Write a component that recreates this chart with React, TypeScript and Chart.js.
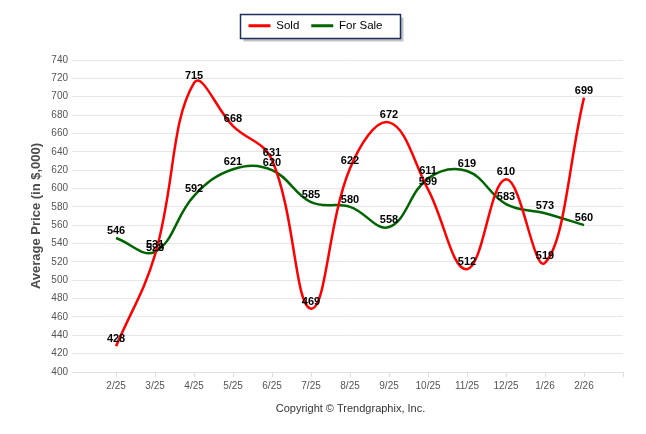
import React, { useEffect, useRef } from "react";
import { Chart, registerables } from "chart.js";

Chart.register(...registerables);

const categories = ["2/25", "3/25", "4/25", "5/25", "6/25", "7/25", "8/25", "9/25", "10/25", "11/25", "12/25", "1/26", "2/26"];
const soldValues = [428, 528, 715, 668, 631, 469, 622, 672, 599, 512, 610, 519, 699];
const forSaleValues = [546, 531, 592, 621, 620, 585, 580, 558, 611, 619, 583, 573, 560];
const yTickMin = 400;
const yTickMax = 740;
const yTickStep = 20;

const FONT = "'Liberation Sans', Arial, sans-serif";

const legendBoxPlugin = {
  id: "legendBox",
  beforeInit(chart: any) {
    const legend = chart.legend;
    if (legend && !legend.__patched) {
      const origFit = legend.fit.bind(legend);
      legend.fit = function () {
        origFit();
        this.height = 52;
      };
      legend.__patched = true;
    }
  },
  beforeDraw(chart: any) {
    const legend = chart.legend;
    if (!legend || !legend.legendHitBoxes || !legend.legendHitBoxes.length) return;
    const hb = legend.legendHitBoxes;
    let minX = Infinity, maxX = -Infinity, minY = Infinity, maxY = -Infinity;
    hb.forEach((b: any) => {
      minX = Math.min(minX, b.left);
      maxX = Math.max(maxX, b.left + b.width);
      minY = Math.min(minY, b.top);
      maxY = Math.max(maxY, b.top + b.height);
    });
    const cy = (minY + maxY) / 2;
    const x0 = Math.round(minX - 9) + 0.5;
    const x1 = Math.round(maxX + 18) + 0.5;
    const y0 = Math.round(cy - 12) + 0.5;
    const y1 = Math.round(cy + 12) + 0.5;
    const ctx = chart.ctx;
    ctx.save();
    ctx.fillStyle = "rgba(120,120,120,0.45)";
    ctx.fillRect(x0 + 3, y0 + 3, x1 - x0, y1 - y0);
    ctx.fillStyle = "#ffffff";
    ctx.fillRect(x0, y0, x1 - x0, y1 - y0);
    ctx.strokeStyle = "#1c2f5e";
    ctx.lineWidth = 1.5;
    ctx.strokeRect(x0, y0, x1 - x0, y1 - y0);
    ctx.restore();
  },
};

const valueLabelPlugin = {
  id: "valueLabels",
  afterDatasetsDraw(chart: any) {
    const ctx = chart.ctx;
    ctx.save();
    ctx.font = `bold 11px ${FONT}`;
    ctx.fillStyle = "#000000";
    ctx.textAlign = "center";
    ctx.textBaseline = "middle";
    chart.data.datasets.forEach((ds: any, di: number) => {
      const meta = chart.getDatasetMeta(di);
      meta.data.forEach((pt: any, i: number) => {
        const v = ds.data[i].y;
        ctx.fillText(String(v), pt.x, pt.y - 7);
      });
    });
    ctx.restore();
  },
};

const copyrightPlugin = {
  id: "copyright",
  afterDraw(chart: any) {
    const { ctx, chartArea } = chart;
    ctx.save();
    ctx.font = `11px ${FONT}`;
    ctx.fillStyle = "#333333";
    ctx.textAlign = "center";
    ctx.textBaseline = "middle";
    ctx.fillText("Copyright © Trendgraphix, Inc.", (chartArea.left + chartArea.right) / 2 + 3, chartArea.bottom + 37);
    ctx.restore();
  },
};

export default function App() {
  const ref = useRef<HTMLCanvasElement>(null);
  useEffect(() => {
    if (!ref.current) return;
    const chart = new Chart(ref.current, {
      type: "line",
      data: {
        datasets: [
          {
            label: "Sold",
            data: soldValues.map((v, i) => ({ x: i, y: v })),
            borderColor: "#ff0000",
            backgroundColor: "#ff0000",
            borderWidth: 2.5,
            pointRadius: 0,
            tension: 0.4,
            fill: false,
          },
          {
            label: "For Sale",
            data: forSaleValues.map((v, i) => ({ x: i, y: v })),
            borderColor: "#006400",
            backgroundColor: "#006400",
            borderWidth: 2.5,
            pointRadius: 0,
            tension: 0.4,
            fill: false,
          },
        ],
      },
      options: {
        animation: false,
        responsive: true,
        maintainAspectRatio: false,
        layout: { padding: { left: 0, right: 15, top: 0, bottom: 0 } },
        plugins: {
          legend: {
            display: true,
            position: "top",
            labels: {
              boxWidth: 22,
              boxHeight: 3,
              padding: 12,
              color: "#000000",
              font: { family: FONT, size: 11.5 },
              generateLabels(chart: any) {
                const items = Chart.defaults.plugins.legend.labels.generateLabels(chart);
                return items.map((it: any) => ({ ...it, lineWidth: 0 }));
              },
            },
          },
          tooltip: { enabled: false },
          title: { display: false },
        },
        scales: {
          x: {
            type: "linear",
            min: -1.13,
            max: 13,
            afterFit(scale: any) {
              scale.height = 54;
            },
            afterBuildTicks(scale: any) {
              scale.ticks = categories.map((_, i) => ({ value: i })).concat([{ value: 13 }]);
            },
            ticks: {
              stepSize: 1,
              autoSkip: false,
              maxRotation: 0,
              padding: 3,
              color: "#555555",
              font: { family: FONT, size: 10 },
              callback: (val: any) => {
                const i = Number(val);
                return Number.isInteger(i) && i >= 0 && i < categories.length ? categories[i] : "";
              },
            },
            grid: {
              drawOnChartArea: false,
              drawTicks: true,
              tickLength: 5,
              color: "#dddddd",
            },
            border: { display: true, color: "#e0e0e0" },
          },
          y: {
            min: yTickMin,
            max: yTickMax,
            afterFit(scale: any) {
              scale.width = 64;
            },
            ticks: {
              stepSize: yTickStep,
              padding: 4,
              color: "#555555",
              font: { family: FONT, size: 10 },
            },
            grid: { color: "#e6e6e6", drawTicks: false, lineWidth: 1 },
            border: { display: false },
            title: {
              display: true,
              text: "Average Price (in $,000)",
              color: "#4d4d4d",
              font: { family: FONT, size: 13, weight: "bold" },
              padding: { top: 21, bottom: 0 },
            },
          },
        },
      },
      plugins: [legendBoxPlugin, valueLabelPlugin, copyrightPlugin],
    } as any);
    return () => chart.destroy();
  }, []);
  return (
    <div style={{ width: 630, height: 418, position: "relative" }}>
      <canvas ref={ref} />
    </div>
  );
}
